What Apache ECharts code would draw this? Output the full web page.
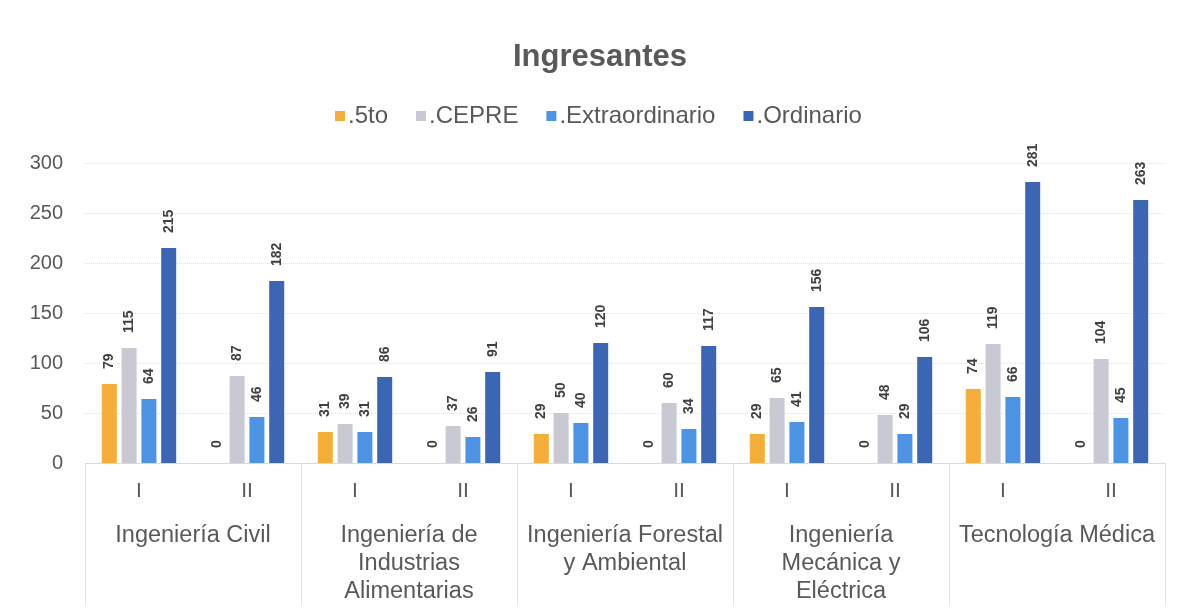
<!DOCTYPE html>
<html>
<head>
<meta charset="utf-8">
<script src="https://cdn.jsdelivr.net/npm/echarts@6/dist/echarts.min.js"></script>
<style>html,body{margin:0;padding:0;background:#fff}#c{width:1177px;height:611px}</style>
</head>
<body>
<div id="c"></div>
<script>
const periods = ['I','II','I','II','I','II','I','II','I','II'];
const faculties = ['Ingeniería Civil','Ingeniería de\nIndustrias\nAlimentarias','Ingeniería Forestal\ny Ambiental','Ingeniería\nMecánica y\nEléctrica','Tecnología Médica'];
const seriesNames = ['.5to','.CEPRE','.Extraordinario','.Ordinario'];
const quinto = [79,0,31,0,29,0,29,0,74,0];
const cepre = [115,87,39,37,50,60,65,48,119,104];
const extra = [64,46,31,26,40,34,41,29,66,45];
const ordinario = [215,182,86,91,120,117,156,106,281,263];
const colors = ['#F6AE3A','#C8C9D2','#4E94E4','#3A66B4'];
const yTicks = {min:0,max:300,interval:50};

const chart = echarts.init(document.getElementById('c'));
const font = 'Liberation Sans, Arial, sans-serif';
const label = {show:true,position:'top',rotate:90,align:'left',verticalAlign:'middle',distance:15,
  fontSize:14,fontWeight:'bold',color:'#404040',fontFamily:font};
const mk = (name,data,i)=>({name,type:'bar',data,xAxisIndex:0,barWidth:15,barGap:'32%',
  itemStyle:{color:colors[i]},label});
chart.setOption({
  animation:false,
  title:{text:'Ingresantes',left:508,top:37,
    textStyle:{fontSize:31,fontWeight:'bold',color:'#595959',fontFamily:font}},
  legend:{top:99,left:330,itemWidth:10,itemHeight:10,itemGap:28,icon:'rect',
    textStyle:{fontSize:24,color:'#595959',fontFamily:font,padding:[0,0,0,-2]}},
  grid:{left:85,right:12,top:163,bottom:148},
  xAxis:[
    {type:'category',data:periods,position:'bottom',
      axisLine:{lineStyle:{color:'#d9d9d9'}},axisTick:{show:false},
      axisLabel:{interval:0,margin:18,fontSize:21,color:'#595959',fontFamily:font}},
    {type:'category',data:faculties,position:'bottom',
      axisLine:{show:false},axisTick:{show:true,interval:0,length:142,lineStyle:{color:'#e3e3e3'}},
      axisLabel:{interval:0,margin:59,fontSize:23.5,color:'#595959',fontFamily:font,lineHeight:28,verticalAlign:'top',align:'center'}}
  ],
  yAxis:{type:'value',min:yTicks.min,max:yTicks.max,interval:yTicks.interval,
    axisLine:{show:false},axisTick:{show:false},
    axisLabel:{margin:22,fontSize:20,color:'#595959',fontFamily:font},
    splitLine:{lineStyle:{color:'#e0e0e0',type:'dotted'}}},
  series:[mk(seriesNames[0],quinto,0),mk(seriesNames[1],cepre,1),mk(seriesNames[2],extra,2),mk(seriesNames[3],ordinario,3)]
});
</script>
</body>
</html>
